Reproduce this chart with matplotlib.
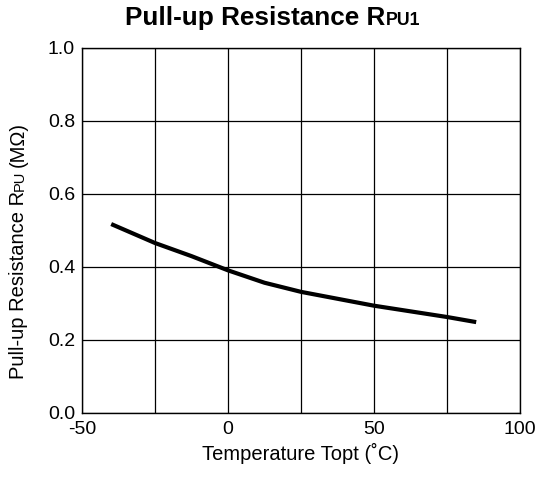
import numpy as np
import matplotlib.pyplot as plt

plt.rcParams['font.family'] = ['Liberation Sans', 'DejaVu Sans']

# curve
temp = [-40, -25, -12.5, 0, 12.5, 25, 50, 75, 85]
res = [0.517, 0.465, 0.429, 0.390, 0.356, 0.331, 0.293, 0.262, 0.248]

xticks = [-50, 0, 50, 100]
xgrid = [-50, -25, 0, 25, 50, 75, 100]
yticks = [0.0, 0.2, 0.4, 0.6, 0.8, 1.0]

W, H = 540, 478
fig = plt.figure(figsize=(W / 100, H / 100), dpi=100)
ax = fig.add_axes([82 / W, 1 - 412.5 / H, (520 - 82) / W, (412.5 - 48) / H])

ax.plot(temp, res, color='black', linewidth=3, solid_capstyle='butt')

ax.set_xlim(-50, 100)
ax.set_ylim(0, 1.0)
ax.set_xticks(xgrid)
ax.set_xticklabels([str(v) if v in xticks else '' for v in xgrid])
ax.set_yticks(yticks)
ax.set_yticklabels(['%.1f' % v for v in yticks])
ax.tick_params(length=0, labelsize=14)
ax.tick_params(axis='y', pad=5)
ax.tick_params(axis='x', pad=6)
ax.grid(True, color='black', linewidth=0.9)
for s in ax.spines.values():
    s.set_linewidth(1.0)

ax.set_xlabel('Temperature Topt (˚C)', fontsize=14.5, labelpad=4)

fig.canvas.draw()
r = fig.canvas.get_renderer()

# title with small "PU1"
t = fig.text(125 / W, 1 - 25 / H, 'Pull-up Resistance R', fontsize=18.8,
             fontweight='bold', ha='left', va='baseline')
bb = t.get_window_extent(r)
fig.text(bb.x1 / W + 1 / W, 1 - 25 / H, 'PU1', fontsize=12.8,
         fontweight='bold', ha='left', va='baseline')

# rotated y label in pieces
xb = 24 / W
y0 = 379
parts = [('Pull-up Resistance R', 14.5, 0), ('PU', 10.5, 4), ('(MΩ)', 14.5, 0)]
for txt, fs, gap in parts:
    p = fig.text(xb, 1 - y0 / H, txt, fontsize=fs, rotation=90,
                 rotation_mode='anchor', ha='left', va='baseline')
    pb = p.get_window_extent(r)
    y0 = H - pb.y1 - gap

fig.savefig('out.png', dpi=100)
